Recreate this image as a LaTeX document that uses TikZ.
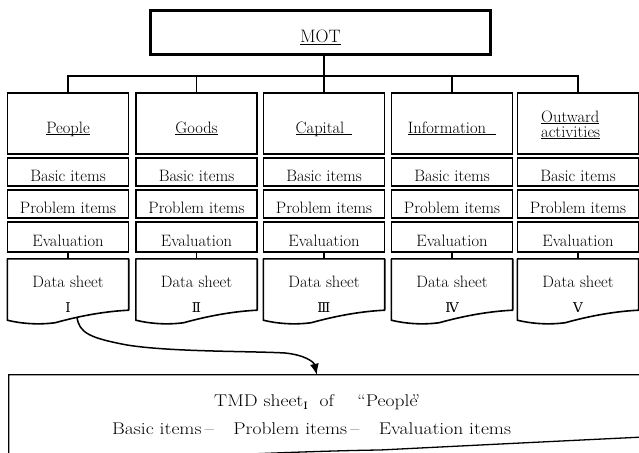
\documentclass[tikz,border=0pt]{standalone}
\usepackage{fontspec}
\newfontfamily\numfont{DejaVu Serif}
\usetikzlibrary{arrows.meta}
\begin{document}
\begin{tikzpicture}[x=1pt,y=-1pt,
  every node/.style={inner sep=0pt},
  f/.style={font=\fontsize{16.5}{18}\selectfont},
  cell/.style={draw, line width=1.8pt, minimum width=121pt, f, text height=18pt, text depth=0pt},
  head/.style={cell, minimum height=61pt},
  rowb/.style={cell, minimum height=28pt},
  rowe/.style={cell, minimum height=30pt},
  sheet/.style={minimum width=121pt, minimum height=61pt},
  sheetline/.style={line width=1.6pt, line join=round},
  lbl/.style={f, anchor=base},
  wire/.style={line width=1.8pt},
  bt/.style={font=\fontsize{17}{19}\selectfont, anchor=base west},
  flow/.style={line width=1.5pt, -{Latex[length=11pt,width=9pt]}}
]
\useasboundingbox (0,0) rectangle (639,452);
\clip (0,0) rectangle (639,452);

% top box
\node[draw, line width=2.7pt, minimum width=340pt, minimum height=44pt] (mot) at (320.5,32.5) {};
\node[font=\fontsize{18}{20}\selectfont, anchor=base] (motl) at (320.5,43) {\underline{\smash{MOT}}};

% category boxes
\node[head] (t1) at (68,123.5) {};
\node[head] (t2) at (196.5,123.5) {};
\node[head] (t3) at (324,123.5) {};
\node[head] (t4) at (452,123.5) {};
\node[head] (t5) at (578,123.5) {};
\node[lbl] (t1l) at (68,133) {\underline{\smash{People}}};
\node[lbl] (t2l) at (196.5,133) {\underline{\smash{Goods}}};
\node[lbl] (t3l) at (324,133) {\underline{\smash{Capital}\hspace{8pt}}};
\node[lbl] (t4l) at (452,133) {\underline{\smash{Information}\hspace{10pt}}};
\node[lbl, anchor=base west] (t5l) at (541,122) {\underline{\smash{Outward}}};
\node[lbl, anchor=base west] (t5m) at (541,137) {\underline{\smash{activities}}};

% tree connectors
\draw[wire] (t1.north) -- ++(0,-16) -| (t5.north);
\draw[wire] (t2.north) -- ++(0,-16);
\draw[wire] (t4.north) -- ++(0,-16);
\draw[wire] (mot.south -| t3.north) -- (t3.north);

% columns
\foreach \i/\cx/\n in {1/68/Ⅰ,2/196.5/Ⅱ,3/324/Ⅲ,4/452/Ⅳ,5/578/Ⅴ}{
  \node[rowb] (b\i) at (\cx,172) {Basic items};
  \node[rowb] (p\i) at (\cx,204) {Problem items};
  \node[rowe] (e\i) at (\cx,237) {Evaluation};
  \node[sheet] (d\i) at (\cx,289.5) {};
  \draw[sheetline] (d\i.south west) -- (d\i.north west) -- (d\i.north east) -- ([yshift=10pt]d\i.south east)
     .. controls ([xshift=100pt,yshift=9pt]d\i.south west) and ([xshift=75pt,yshift=5pt]d\i.south west) .. ([xshift=48pt,yshift=-2.5pt]d\i.south west)
     .. controls ([xshift=30pt,yshift=-5pt]d\i.south west) and ([xshift=12pt,yshift=-3pt]d\i.south west) .. (d\i.south west) -- cycle;
  \node[lbl] (dl\i) at (\cx,287) {Data sheet};
  \node[lbl, font=\numfont\fontsize{13.5}{15}\selectfont] (dn\i) at (\cx,312) {\n};
  \draw[wire] (e\i.south) -- (d\i.north);
}

% bottom sheet
\node[minimum width=651pt, minimum height=91pt] (tmd) at (334.5,420.5) {};
\draw[line width=1.3pt] (tmd.south west) -- (tmd.north west) -- (tmd.north east) -- ([yshift=30pt]tmd.south east)
   .. controls (560,441) and (440,447) .. (380,450)
   .. controls (300,451) and (150,458) .. (tmd.south west);
\node[bt] (l1) at (214,406) {\scalebox{1.15}[1]{TMD sheet\raisebox{-3pt}{\numfont\fontsize{10}{12}\selectfont Ⅰ}\hspace{0.6em}of\hspace{1.2em}“People\kern-0.3em”}};
\node[bt] (l2) at (112,434) {\scalebox{1.15}[1]{Basic items\,–\hspace{1em}Problem items\,–\hspace{1em}Evaluation items}};

% arrow
\coordinate (a0) at (77,317);
\coordinate (a1) at ([xshift=308pt]tmd.north west);
\draw[flow] (a0) .. controls (79,333) and (90,338) .. (127,345)
   .. controls (170,352) and (250,351) .. (285,353)
   .. controls (305,355) and (314,362) .. (a1);
\end{tikzpicture}
\end{document}
